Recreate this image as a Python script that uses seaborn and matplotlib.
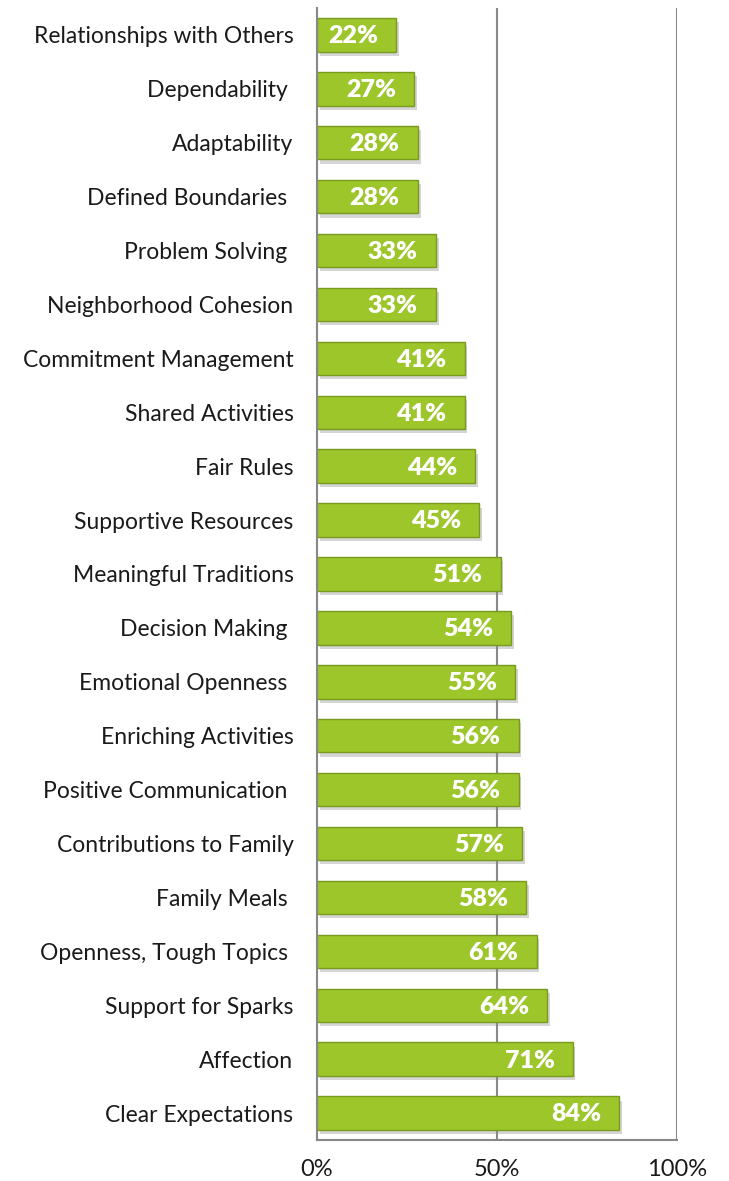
import matplotlib
matplotlib.use("Agg")
import matplotlib.pyplot as plt
import matplotlib.patheffects as pe
import seaborn as sns
import pandas as pd
import numpy as np

categories = [
    "Relationships with Others", "Dependability ", "Adaptability", "Defined Boundaries ",
    "Problem Solving ", "Neighborhood Cohesion", "Commitment Management", "Shared Activities",
    "Fair Rules", "Supportive Resources", "Meaningful Traditions", "Decision Making ",
    "Emotional Openness ", "Enriching Activities", "Positive Communication ",
    "Contributions to Family", "Family Meals ", "Openness, Tough Topics ",
    "Support for Sparks", "Affection", "Clear Expectations",
]
values = [22, 27, 28, 28, 33, 33, 41, 41, 44, 45, 51, 54, 55, 56, 56, 57, 58, 61, 64, 71, 84]
xticks = [0, 50, 100]
xticklabels = ["0%", "50%", "100%"]

df = pd.DataFrame({"category": categories, "value": values})

sns.set_style("white")
plt.rcParams["font.family"] = ["Lato", "DejaVu Sans"]

fig = plt.figure(figsize=(7.29, 11.81), dpi=100)
ax = fig.add_axes([317 / 729, 41 / 1181, 360 / 729, (1173 - 41) / 1181])

sns.barplot(data=df, x="value", y="category", orient="h", color="#9DC62B",
            width=0.62, ax=ax, edgecolor="#7A9A1F", linewidth=1.0, saturation=1)

for p in ax.patches:
    p.set_path_effects([pe.SimplePatchShadow(offset=(2, -3), shadow_rgbFace="#888888", alpha=0.35),
                        pe.Normal()])
    p.set_zorder(3)

for i, v in enumerate(values):
    ax.annotate(f"{v}%", xy=(v, i), xytext=(-13, -1), textcoords="offset points",
                ha="right", va="center", color="white", fontsize=18, fontweight="heavy", zorder=5)

ax.set_xlim(0, 100)
ax.set_ylim(len(categories) - 0.5, -0.5)
ax.set_xticks(xticks)
ax.set_xticklabels(xticklabels, fontsize=17, color="#1a1a1a")
ax.set_yticks(range(len(categories)))
ax.set_yticklabels(categories, fontsize=16.5, color="#1a1a1a")
ax.set_yticks(np.arange(-0.5, len(categories), 1.0), minor=True)
ax.tick_params(axis="y", which="major", length=0, pad=17)
ax.tick_params(axis="y", which="minor", length=7, width=1.5, color="#888888", direction="out")
ax.tick_params(axis="x", which="major", length=7, width=1.5, color="#888888", direction="out", pad=7)
ax.set_xlabel("")
ax.set_ylabel("")

for x in [50, 100]:
    ax.axvline(x, color="#888888", linewidth=1.5, zorder=1)

for s in ["top", "right"]:
    ax.spines[s].set_visible(False)
ax.spines["left"].set_color("#888888")
ax.spines["left"].set_linewidth(1.5)
ax.spines["left"].set_zorder(4)
ax.spines["bottom"].set_color("#888888")
ax.spines["bottom"].set_linewidth(1.5)

fig.savefig("out.png", dpi=100)
